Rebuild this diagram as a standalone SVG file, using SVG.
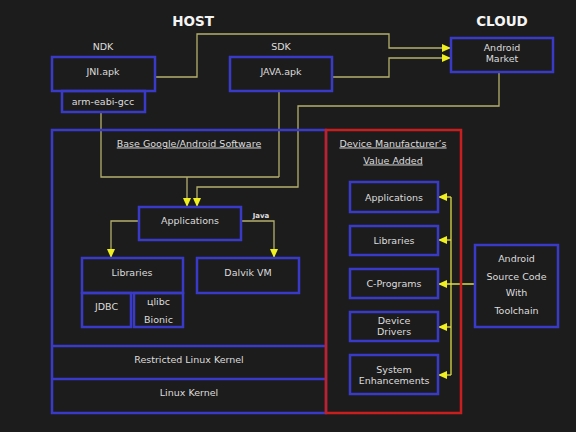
<svg xmlns="http://www.w3.org/2000/svg" width="576" height="432" viewBox="0 0 576 432">
<style>
text{font-family:"DejaVu Sans","Verdana",sans-serif;font-size:9.5px;fill:#dcdcdc;text-anchor:middle}
.title{font-weight:bold;font-size:13.5px;fill:#f4f4f4}
.u{text-decoration:underline}
.small{font-size:7px;font-weight:bold}
.box{fill:none;stroke:#3a3ac8;stroke-width:2.5}
.red{fill:none;stroke:#c81e1e;stroke-width:2.5}
.c{fill:none;stroke:#b4b06c;stroke-width:1.3}
.cy{fill:none;stroke:#dede48;stroke-width:1.3}
</style>
<defs>
<marker id="ah" markerUnits="userSpaceOnUse" markerWidth="9" markerHeight="8" refX="9" refY="4" orient="auto"><path d="M0,0 L9,4 L0,8 z" fill="#f0f020"/></marker>
</defs>
<rect width="576" height="432" fill="#1c1c1c"/>
<text class="title" x="193" y="26">HOST</text>
<text class="title" x="502" y="26">CLOUD</text>
<text x="103" y="50">NDK</text>
<text x="281" y="50">SDK</text>
<g id="connectors">
<path class="c" d="M155,77 H197 V34 H389 V48 H451" marker-end="url(#ah)"/>
<path class="c" d="M332,77 H389 V58 H451" marker-end="url(#ah)"/>
<path class="c" d="M499,72 V106 H298 V187 H197 V207" marker-end="url(#ah)"/>
<path class="c" d="M101,112 V177 H279 M279,91 V177"/>
<path class="c" d="M187,177 V207" marker-end="url(#ah)"/>
<path class="c" d="M139,221 H111 V258" marker-end="url(#ah)"/>
<path class="c" d="M241,221 H274 V258" marker-end="url(#ah)"/>
<path class="cy" d="M475,284 H438" marker-end="url(#ah)"/>
<path class="cy" d="M451,197 V375"/>
<path class="cy" d="M451,197 H438" marker-end="url(#ah)"/>
<path class="cy" d="M451,240 H438" marker-end="url(#ah)"/>
<path class="cy" d="M451,327 H438" marker-end="url(#ah)"/>
<path class="cy" d="M451,375 H438" marker-end="url(#ah)"/>
</g>
<g id="jni"><rect class="box" x="52" y="57" width="103" height="34"/><text x="103" y="74.5">JNI.apk</text></g>
<g id="gcc"><rect class="box" x="62" y="91" width="83" height="21"/><text x="103" y="104.5">arm-eabi-gcc</text></g>
<g id="java"><rect class="box" x="230" y="57" width="102" height="34"/><text x="281" y="74.5">JAVA.apk</text></g>
<g id="market"><rect class="box" x="451" y="38" width="102" height="34"/><text x="502" y="50.5">Android</text><text x="502" y="61.5">Market</text></g>
<g id="base">
<rect class="box" x="52" y="130" width="274" height="283"/>
<path class="box" d="M52,346 H326 M52,379 H326"/>
<text class="u" x="189" y="146.5">Base Google/Android Software</text>
</g>
<g id="rlk"><text x="189" y="362.5">Restricted Linux Kernel</text></g>
<g id="lk"><text x="189" y="395.5">Linux Kernel</text></g>
<g id="device">
<rect class="red" x="326" y="130" width="135" height="283"/>
<text class="u" x="393" y="146.5">Device Manufacturer’s</text>
<text class="u" x="393" y="163.5">Value Added</text>
</g>
<g id="apps"><rect class="box" x="139" y="207" width="102" height="33"/><text x="190" y="223.5">Applications</text></g>
<text class="small" x="261" y="218">Java</text>
<g id="libs"><rect class="box" x="82" y="258" width="101" height="35"/><text x="132" y="275.5">Libraries</text></g>
<g id="jdbc"><rect class="box" x="82" y="293" width="49" height="34"/><text x="106.5" y="309.5">JDBC</text></g>
<g id="bionic"><rect class="box" x="134" y="293" width="49" height="34"/><text x="158.5" y="304.5">цlibc</text><text x="158.5" y="322.5">Bionic</text></g>
<g id="dalvik"><rect class="box" x="197" y="258" width="102" height="35"/><text x="248" y="275.5">Dalvik VM</text></g>
<g id="dapps"><rect class="box" x="350" y="182" width="88" height="30"/><text x="394" y="200.5">Applications</text></g>
<g id="dlibs"><rect class="box" x="350" y="226" width="88" height="29"/><text x="394" y="243.5">Libraries</text></g>
<g id="cprog"><rect class="box" x="350" y="269" width="88" height="29"/><text x="394" y="287">C-Programs</text></g>
<g id="drivers"><rect class="box" x="350" y="312" width="88" height="29"/><text x="394" y="323.5">Device</text><text x="394" y="334.5">Drivers</text></g>
<g id="sysenh"><rect class="box" x="350" y="355" width="88" height="39"/><text x="394" y="372.5">System</text><text x="394" y="383.5">Enhancements</text></g>
<g id="source"><rect class="box" x="475" y="245" width="83" height="82"/><text x="516.5" y="261.5">Android</text><text x="516.5" y="279.5">Source Code</text><text x="516.5" y="295.5">With</text><text x="516.5" y="313.5">Toolchain</text></g>
</svg>
